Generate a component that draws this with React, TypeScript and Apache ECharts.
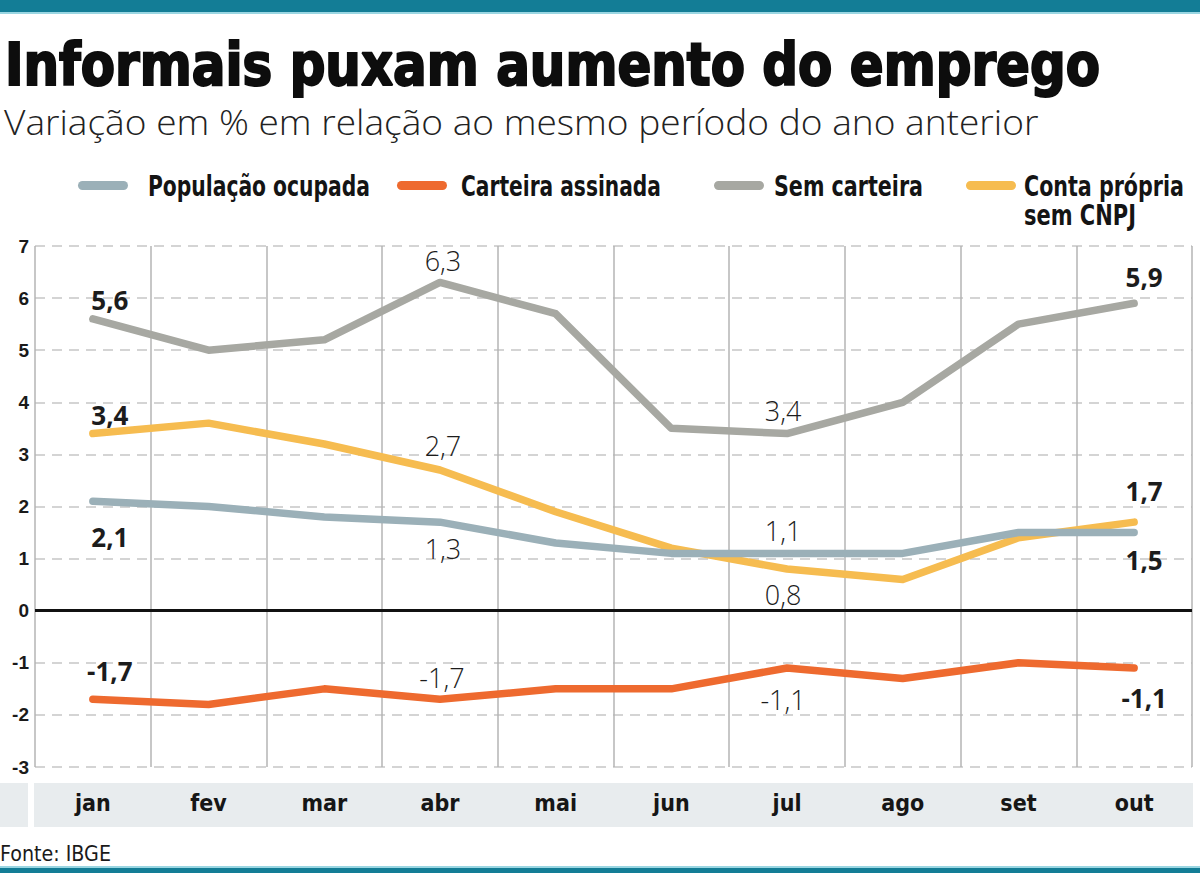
import React, { useEffect, useRef } from "react";
import * as echarts from "echarts";

// ---------- data ----------
const months = ["jan", "fev", "mar", "abr", "mai", "jun", "jul", "ago", "set", "out"];
const yTicks = { min: -3, max: 7, interval: 1 };

const populacaoOcupada = [2.1, 2.0, 1.8, 1.7, 1.3, 1.1, 1.1, 1.1, 1.5, 1.5];
const carteiraAssinada = [-1.7, -1.8, -1.5, -1.7, -1.5, -1.5, -1.1, -1.3, -1.0, -1.1];
const semCarteira = [5.6, 5.0, 5.2, 6.3, 5.7, 3.5, 3.4, 4.0, 5.5, 5.9];
const contaPropria = [3.4, 3.6, 3.2, 2.7, 1.9, 1.2, 0.8, 0.6, 1.4, 1.7];

// printed value labels (as in the original graphic)
const populacaoLabels = ["2,1", "", "", "1,3", "", "", "1,1", "", "", "1,5"];
const carteiraLabels = ["-1,7", "", "", "-1,7", "", "", "-1,1", "", "", "-1,1"];
const semCarteiraLabels = ["5,6", "", "", "6,3", "", "", "3,4", "", "", "5,9"];
const contaPropriaLabels = ["3,4", "", "", "2,7", "", "", "0,8", "", "", "1,7"];

const seriesNames = ["População ocupada", "Carteira assinada", "Sem carteira", "Conta própria\nsem CNPJ"];

const TITLE = "Informais puxam aumento do emprego";
const SUBTITLE = "Variação em % em relação ao mesmo período do ano anterior";
const SOURCE = "Fonte: IBGE";

// ---------- styles ----------
const COLORS = {
  pop: "#9bb0b8",
  cart: "#ee6a2f",
  sem: "#a7a8a2",
  conta: "#f6bc50",
};
const NARROW = '"Liberation Sans Narrow", "DejaVu Sans Condensed", sans-serif';
const COND = '"DejaVu Sans Condensed", "Liberation Sans Narrow", sans-serif';
const LABELFONT = '"Open Sans", "DejaVu Sans", sans-serif';

function measure(text: string, font: string): number {
  const c = document.createElement("canvas").getContext("2d");
  if (!c) return 0;
  c.font = font;
  return c.measureText(text).width;
}
function fit(text: string, weight: string | number, size: number, family: string, target: number) {
  const w = measure(text, `${weight} ${size}px ${family}`);
  return w > 0 ? target / w : 1;
}

type Off = Record<number, [number, number]>;

function buildSeries(
  name: string,
  values: number[],
  labels: string[],
  offsets: Off,
  color: string,
  z: number
) {
  const last = values.length - 1;
  return {
    name,
    type: "line",
    z,
    symbol: "circle",
    symbolSize: 4,
    itemStyle: { color },
    lineStyle: { color, width: 7.5, cap: "round", join: "round" },
    emphasis: { disabled: true },
    data: values.map((v, i) => {
      const txt = labels[i];
      if (!txt) return { value: v, label: { show: false } };
      const bold = i === 0 || i === last;
      return {
        value: v,
        label: {
          show: true,
          position: "inside",
          formatter: txt,
          offset: offsets[i] || [0, -20],
          fontFamily: LABELFONT,
          fontWeight: bold ? 700 : 300,
          fontSize: bold ? 26 : 27,
          color: "#1c1c1c",
        },
      };
    }),
  };
}

export default function App() {
  const ref = useRef<HTMLDivElement>(null);

  useEffect(() => {
    if (!ref.current) return;
    const chart = echarts.init(ref.current, null, { renderer: "svg" });

    const titleScale = fit(TITLE, "bold", 58, COND, 1095);
    const subScale = fit(SUBTITLE, 300, 35, LABELFONT, 1035);

    const legendItems = [
      { color: COLORS.pop, sx: 78, tx: 148, lines: [seriesNames[0]], widths: [222] },
      { color: COLORS.cart, sx: 397, tx: 461, lines: [seriesNames[1]], widths: [200] },
      { color: COLORS.sem, sx: 714, tx: 774, lines: [seriesNames[2]], widths: [149] },
      { color: COLORS.conta, sx: 966, tx: 1024, lines: seriesNames[3].split("\n"), widths: [160, 112] },
    ];

    const legendGraphics: any[] = [];
    legendItems.forEach((it) => {
      legendGraphics.push({
        type: "rect",
        shape: { x: it.sx, y: 181, width: 50, height: 9, r: 4.5 },
        style: { fill: it.color },
        silent: true,
      });
      it.lines.forEach((ln, k) => {
        legendGraphics.push({
          type: "text",
          x: it.tx,
          y: 186 + k * 29,
          scaleX: fit(ln, "bold", 28, NARROW, it.widths[k]),
          style: {
            text: ln,
            fontFamily: NARROW,
            fontWeight: "bold",
            fontSize: 28,
            fill: "#141414",
            align: "left",
            verticalAlign: "middle",
          },
          silent: true,
        });
      });
    });

    const option: any = {
      animation: false,
      backgroundColor: "#ffffff",
      grid: { left: 35, right: 8, top: 246, bottom: 106, containLabel: false },
      xAxis: {
        type: "category",
        data: months,
        boundaryGap: true,
        axisLine: { show: false },
        axisTick: { show: false },
        splitLine: { show: true, interval: 0, lineStyle: { color: "#b4b4b4", width: 1.5 } },
        axisLabel: {
          interval: 0,
          margin: 36,
          verticalAlign: "middle",
          fontFamily: COND,
          fontWeight: "bold",
          fontSize: 23,
          color: "#161616",
        },
      },
      yAxis: {
        type: "value",
        min: yTicks.min,
        max: yTicks.max,
        interval: yTicks.interval,
        axisLine: { show: false },
        axisTick: { show: false },
        splitLine: { show: true, lineStyle: { color: "#c6c6c6", width: 1.5, type: [10, 7] } },
        axisLabel: {
          margin: 6,
          padding: [0, 0, 10, 0],
          fontFamily: '"Liberation Sans", Arial, sans-serif',
          fontWeight: "bold",
          fontSize: 19,
          color: "#1a1a1a",
        },
      },
      series: [
        {
          ...buildSeries(
            seriesNames[3].replace("\n", " "),
            contaPropria,
            contaPropriaLabels,
            { 0: [17, -19], 3: [3, -25], 6: [-4, 25], 9: [10, -31] },
            COLORS.conta,
            2
          ),
          markLine: {
            silent: true,
            symbol: ["none", "none"],
            label: { show: false },
            lineStyle: { color: "#111111", width: 3, type: "solid" },
            data: [{ yAxis: 0 }],
          },
        },
        buildSeries(
          seriesNames[2],
          semCarteira,
          semCarteiraLabels,
          { 0: [17, -19], 3: [3, -22], 6: [-4, -23], 9: [10, -26] },
          COLORS.sem,
          3
        ),
        buildSeries(
          seriesNames[1],
          carteiraAssinada,
          carteiraLabels,
          { 0: [17, -28], 3: [2, -22], 6: [-4, 31], 9: [10, 30] },
          COLORS.cart,
          4
        ),
        buildSeries(
          seriesNames[0],
          populacaoOcupada,
          populacaoLabels,
          { 0: [17, 36], 3: [3, 26], 6: [-4, -23], 9: [10, 27] },
          COLORS.pop,
          5
        ),
      ],
      graphic: [
        // top bar
        { type: "rect", z: -5, shape: { x: 0, y: 0, width: 1200, height: 12 }, style: { fill: "#137d96" }, silent: true },
        { type: "rect", z: -5, shape: { x: 0, y: 12, width: 1200, height: 2 }, style: { fill: "#9ad6e2" }, silent: true },
        // bottom bar
        { type: "rect", z: -5, shape: { x: 0, y: 866, width: 1200, height: 2 }, style: { fill: "#9ad6e2" }, silent: true },
        { type: "rect", z: -5, shape: { x: 0, y: 868, width: 1200, height: 5 }, style: { fill: "#137d96" }, silent: true },
        // month band
        { type: "rect", z: -5, shape: { x: 0, y: 783, width: 28, height: 44 }, style: { fill: "#e8ecee" }, silent: true },
        { type: "rect", z: -5, shape: { x: 34, y: 783, width: 1159, height: 44 }, style: { fill: "#e8ecee" }, silent: true },
        // title
        {
          type: "text",
          x: 5,
          y: 65,
          scaleX: titleScale,
          style: {
            text: TITLE,
            fontFamily: COND,
            fontWeight: "bold",
            fontSize: 58,
            fill: "#0d0d0d",
            stroke: "#0d0d0d",
            lineWidth: 2,
            align: "left",
            verticalAlign: "middle",
          },
          silent: true,
        },
        {
          type: "text",
          x: 4,
          y: 121,
          scaleX: subScale,
          style: {
            text: SUBTITLE,
            fontFamily: LABELFONT,
            fontWeight: 300,
            fontSize: 35,
            fill: "#222222",
            align: "left",
            verticalAlign: "middle",
          },
          silent: true,
        },
        ...legendGraphics,
        {
          type: "text",
          x: 0,
          y: 853,
          scaleX: fit(SOURCE, "normal", 22, NARROW, 111),
          style: {
            text: SOURCE,
            fontFamily: NARROW,
            fontSize: 22,
            fill: "#1a1a1a",
            align: "left",
            verticalAlign: "middle",
          },
          silent: true,
        },
      ],
    };

    chart.setOption(option);
    return () => chart.dispose();
  }, []);

  return (
    <div
      ref={ref}
      style={{ position: "fixed", left: 0, top: 0, width: 1200, height: 873, background: "#fff" }}
    />
  );
}
